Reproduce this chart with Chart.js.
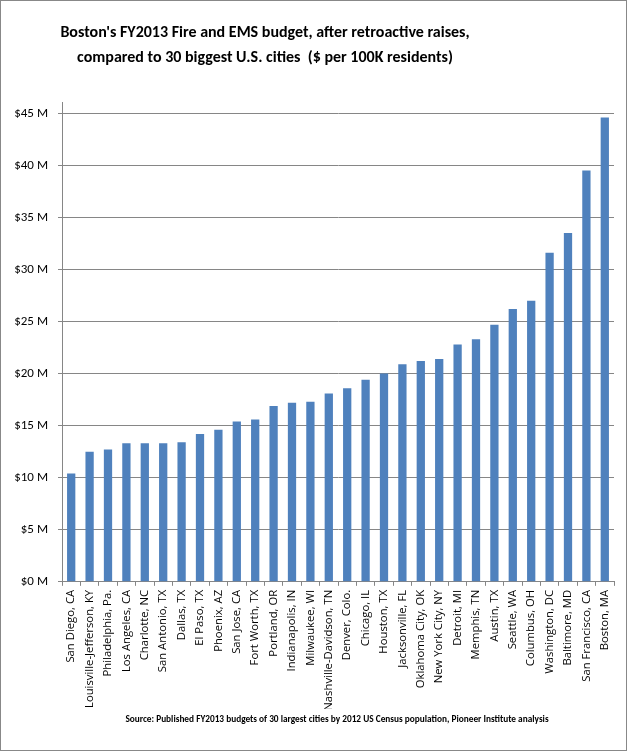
<!DOCTYPE html>
<html>
<head>
<meta charset="utf-8">
<script src="https://cdn.jsdelivr.net/npm/chart.js@4/dist/chart.umd.min.js"></script>
<style>
html,body{margin:0;padding:0;background:#fff;}
#wrap{width:627px;height:751px;position:relative;}
</style>
</head>
<body>
<div id="wrap"><canvas id="c" width="627" height="751"></canvas></div>
<script>
const cities = ["San Diego, CA","Louisville-Jefferson, KY","Philadelphia, Pa.","Los Angeles, CA","Charlotte, NC","San Antonio, TX","Dallas, TX","El Paso, TX","Phoenix, AZ","San Jose, CA","Fort Worth, TX","Portland, OR","Indianapolis, IN","Milwaukee, WI","Nashville-Davidson, TN","Denver, Colo.","Chicago, IL","Houston, TX","Jacksonville, FL","Oklahoma City, OK","New York City, NY","Detroit, MI","Memphis, TN","Austin, TX","Seattle, WA","Columbus, OH","Washington, DC","Baltimore, MD","San Francisco, CA","Boston, MA"];
const budgetPer100K = [10.4,12.5,12.7,13.3,13.3,13.3,13.4,14.2,14.6,15.4,15.6,16.9,17.2,17.3,18.1,18.6,19.4,20.0,20.9,21.2,21.4,22.8,23.3,24.7,26.2,27.0,31.6,33.5,39.5,44.6];
const yTicks = [0,5,10,15,20,25,30,35,40,45];
const titleLines = ["Boston's FY2013 Fire and EMS budget, after retroactive raises,","compared to 30 biggest U.S. cities  ($ per 100K residents)"];
const sourceText = "Source: Published FY2013 budgets of 30 largest cities by 2012 US Census population, Pioneer Institute analysis";

const FONT = "Carlito, Calibri, 'Liberation Sans Narrow', 'Open Sans', sans-serif";
const LABEL_FONT = "'Open Sans', Carlito, sans-serif";
const GRID = '#868686';

const borderPlugin = {
  id: 'outerBorder',
  afterLayout(chart) {
    // horizontal placement of the title and source blocks as in the reference
    for (const box of chart.boxes) {
      if (box.options && box.options.text === titleLines) {
        box.left = 0; box.right = 530; box.width = 530;
      }
      if (box.options && box.options.text === sourceText) {
        box.left = 60; box.right = 614; box.width = 554;
      }
    }
  },
  beforeDraw(chart) {
    const ctx = chart.ctx;
    ctx.save();
    ctx.fillStyle = '#fff';
    ctx.fillRect(0, 0, chart.width, chart.height);
    ctx.restore();
  },
  afterDraw(chart) {
    const ctx = chart.ctx;
    ctx.save();
    ctx.strokeStyle = '#888';
    ctx.lineWidth = 1;
    ctx.strokeRect(0.5, 0.5, chart.width - 1, chart.height - 1);
    ctx.restore();
  }
};

new Chart(document.getElementById('c'), {
  type: 'bar',
  data: {
    labels: cities,
    datasets: [{
      data: budgetPer100K,
      backgroundColor: '#4F81BD',
      borderWidth: 0,
      barPercentage: 0.45,
      categoryPercentage: 1.0
    }]
  },
  options: {
    responsive: false,
    animation: false,
    devicePixelRatio: 1,
    layout: { padding: { left: 0, right: 13, top: 0, bottom: 0 } },
    plugins: {
      legend: { display: false },
      tooltip: { enabled: false },
      title: {
        display: true,
        text: titleLines,
        color: '#000',
        font: { family: FONT, size: 16, weight: 'bold', lineHeight: 1.56 },
        padding: { top: 21, bottom: 32 }
      },
      subtitle: {
        display: true,
        position: 'bottom',
        text: sourceText,
        color: '#000',
        font: { family: FONT, size: 9.3, weight: 'bold', lineHeight: 1.2 },
        padding: { top: 5, bottom: 26 }
      }
    },
    scales: {
      x: {
        grid: { display: true, drawOnChartArea: false, drawTicks: true, tickLength: 4, color: GRID, offset: true },
        border: { color: GRID, width: 1 },
        ticks: {
          color: '#000',
          font: { family: LABEL_FONT, size: 11.3 },
          minRotation: 90, maxRotation: 90,
          autoSkip: false,
          padding: 4
        },
        afterFit(scale) { scale.height = 127; }
      },
      y: {
        min: 0, max: 46,
        grid: { color: GRID, lineWidth: 1, drawTicks: true, tickLength: 4 },
        border: { color: GRID, width: 1 },
        afterBuildTicks(scale) { scale.ticks = yTicks.map(v => ({ value: v })); },
        ticks: {
          color: '#000',
          font: { family: FONT, size: 13 },
          padding: 10,
          callback: v => '$' + v + ' M'
        },
        afterFit(scale) { scale.width = 62; }
      }
    }
  },
  plugins: [borderPlugin]
});
</script>
</body>
</html>
